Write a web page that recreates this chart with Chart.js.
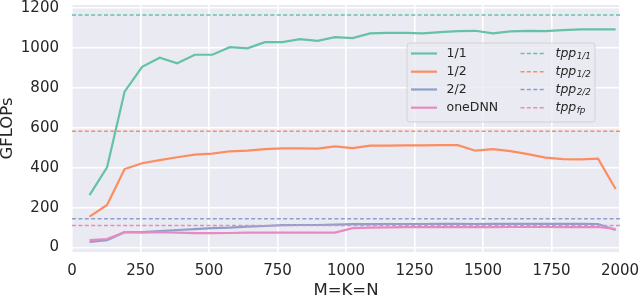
<!DOCTYPE html>
<html>
<head>
<meta charset="utf-8">
<script src="https://cdn.jsdelivr.net/npm/chart.js@4.4.1/dist/chart.umd.min.js"></script>
<style>
  html, body { margin: 0; padding: 0; background: #ffffff; }
  #wrap { width: 640px; height: 297px; }
</style>
</head>
<body>
<div id="wrap"><canvas id="c" width="640" height="297"></canvas></div>
<script>
// ---- data ----
const sizes = [64, 128, 192, 256, 320, 384, 448, 512, 576, 640, 704, 768, 832, 896, 960, 1024,
               1088, 1152, 1216, 1280, 1344, 1408, 1472, 1536, 1600, 1664, 1728, 1792, 1856, 1920, 1984];
const gflops11 = [263, 402, 780, 905, 950, 922, 965, 965, 1003, 997, 1028, 1028, 1043, 1035, 1053, 1048,
                  1072, 1075, 1075, 1072, 1078, 1083, 1085, 1072, 1082, 1085, 1083, 1088, 1092, 1092, 1092];
const gflops12 = [155, 213, 393, 422, 438, 452, 465, 470, 482, 485, 493, 497, 497, 495, 507, 498,
                  510, 510, 512, 512, 513, 513, 485, 493, 483, 468, 450, 443, 442, 445, 293];
const gflops22 = [28, 37, 77, 78, 83, 88, 92, 97, 100, 105, 108, 112, 113, 113, 115, 117,
                  117, 118, 118, 118, 119, 119, 118, 119, 119, 119, 119, 119, 119, 118, 88];
const gflopsOneDNN = [37, 43, 77, 75, 77, 75, 72, 72, 73, 75, 75, 75, 75, 75, 75, 97,
                      100, 101, 102, 102, 102, 102, 102, 102, 103, 103, 103, 102, 102, 103, 93];
const seriesLabels = ['1/1', '1/2', '2/2', 'oneDNN'];
const tppSubscripts = ['1/1', '1/2', '2/2', 'fp'];
const tppValues = [1164, 582, 145, 110];
const xTickValues = [0, 250, 500, 750, 1000, 1250, 1500, 1750, 2000];
const yTickValues = [0, 200, 400, 600, 800, 1000, 1200];
const xRange = [0, 2000];
const yRange = [-22, 1214];
const colors = ['#66c2a5', '#fc8d62', '#8da0cb', '#e78ac3'];

const seriesValues = [gflops11, gflops12, gflops22, gflopsOneDNN];
const TEXT = '#262626';
const FONT = 'DejaVu Sans';
const DASH = [4, 2.4];

const datasets = [];
seriesValues.forEach((vals, i) => {
  datasets.push({
    label: seriesLabels[i],
    data: sizes.map((s, k) => ({ x: s, y: vals[k] })),
    borderColor: colors[i],
    borderWidth: 2.2,
    pointRadius: 0,
    tension: 0,
    order: 20 - i
  });
});
tppValues.forEach((v, i) => {
  datasets.push({
    label: 'tpp_' + tppSubscripts[i],
    data: [{ x: xRange[0], y: v }, { x: xRange[1], y: v }],
    borderColor: colors[i],
    borderWidth: 1.5,
    borderDash: DASH,
    pointRadius: 0,
    tension: 0,
    order: 10 - i
  });
});

const plotBgPlugin = {
  id: 'plotBackground',
  beforeDraw(chart) {
    const { ctx, chartArea: a } = chart;
    ctx.save();
    ctx.fillStyle = '#EAEAF2';
    ctx.fillRect(a.left, a.top, a.right - a.left, a.bottom - a.top);
    ctx.restore();
  }
};

const legendPlugin = {
  id: 'customLegend',
  afterDraw(chart) {
    const { ctx, chartArea: a } = chart;
    const bx = a.left + 335, by = a.top + 38, bw = 188, bh = 79;
    ctx.save();
    ctx.beginPath();
    ctx.roundRect(bx, by, bw, bh, 3);
    ctx.fillStyle = 'rgba(234,234,242,0.8)';
    ctx.fill();
    ctx.strokeStyle = 'rgba(204,204,204,0.8)';
    ctx.lineWidth = 1;
    ctx.stroke();
    const rowY = [10.5, 28.7, 46.5, 64.7];
    ctx.textBaseline = 'middle';
    ctx.fillStyle = TEXT;
    for (let i = 0; i < 4; i++) {
      const y = by + rowY[i];
      ctx.setLineDash([]);
      ctx.strokeStyle = colors[i];
      ctx.lineWidth = 2.2;
      ctx.beginPath(); ctx.moveTo(bx + 4, y); ctx.lineTo(bx + 30, y); ctx.stroke();
      ctx.font = '12.5px "' + FONT + '"';
      ctx.fillStyle = TEXT;
      ctx.fillText(seriesLabels[i], bx + 39.5, y + 0.5);
      ctx.setLineDash(DASH);
      ctx.strokeStyle = colors[i];
      ctx.lineWidth = 1.5;
      ctx.beginPath(); ctx.moveTo(bx + 113.5, y); ctx.lineTo(bx + 139, y); ctx.stroke();
      ctx.setLineDash([]);
      ctx.font = 'italic 12.5px "' + FONT + '"';
      ctx.fillText('tpp', bx + 148.5, y + 0.5);
      const w = ctx.measureText('tpp').width;
      ctx.font = 'italic 8.8px "' + FONT + '"';
      ctx.fillText(tppSubscripts[i], bx + 148.5 + w + 0.5, y + 3.5);
    }
    ctx.restore();
  }
};

new Chart(document.getElementById('c'), {
  type: 'line',
  data: { datasets },
  plugins: [plotBgPlugin, legendPlugin],
  options: {
    responsive: false,
    animation: false,
    devicePixelRatio: 1,
    layout: { padding: { top: 5, right: 20, left: 0, bottom: 0 } },
    plugins: { legend: { display: false }, tooltip: { enabled: false } },
    scales: {
      x: {
        type: 'linear',
        min: xRange[0], max: xRange[1],
        afterBuildTicks(scale) { scale.ticks = xTickValues.map(v => ({ value: v })); },
        afterFit(scale) { scale.height = 45; scale.paddingLeft = 0; scale.paddingRight = 0; },
        border: { display: false },
        grid: { color: '#ffffff', lineWidth: 1.6, drawTicks: false },
        ticks: { color: TEXT, font: { family: FONT, size: 15 }, padding: 10.5, maxRotation: 0,
                 callback: v => String(v) },
        title: { display: true, text: 'M=K=N', color: TEXT,
                 font: { family: FONT, size: 16.5, lineHeight: 0.8 }, padding: { top: 0, bottom: 0 } }
      },
      y: {
        type: 'linear',
        min: yRange[0], max: yRange[1],
        afterBuildTicks(scale) { scale.ticks = yTickValues.map(v => ({ value: v })); },
        afterFit(scale) { scale.width = 72; scale.paddingTop = 0; scale.paddingBottom = 0; },
        border: { display: false },
        grid: { color: '#ffffff', lineWidth: 1.6, drawTicks: false },
        ticks: { color: TEXT, font: { family: FONT, size: 15 }, padding: 13,
                 callback: v => String(v) },
        title: { display: true, text: 'GFLOPs', color: TEXT,
                 font: { family: FONT, size: 16.5, lineHeight: 0.9 }, padding: { top: 0, bottom: 0 } }
      }
    }
  }
});
</script>
</body>
</html>
